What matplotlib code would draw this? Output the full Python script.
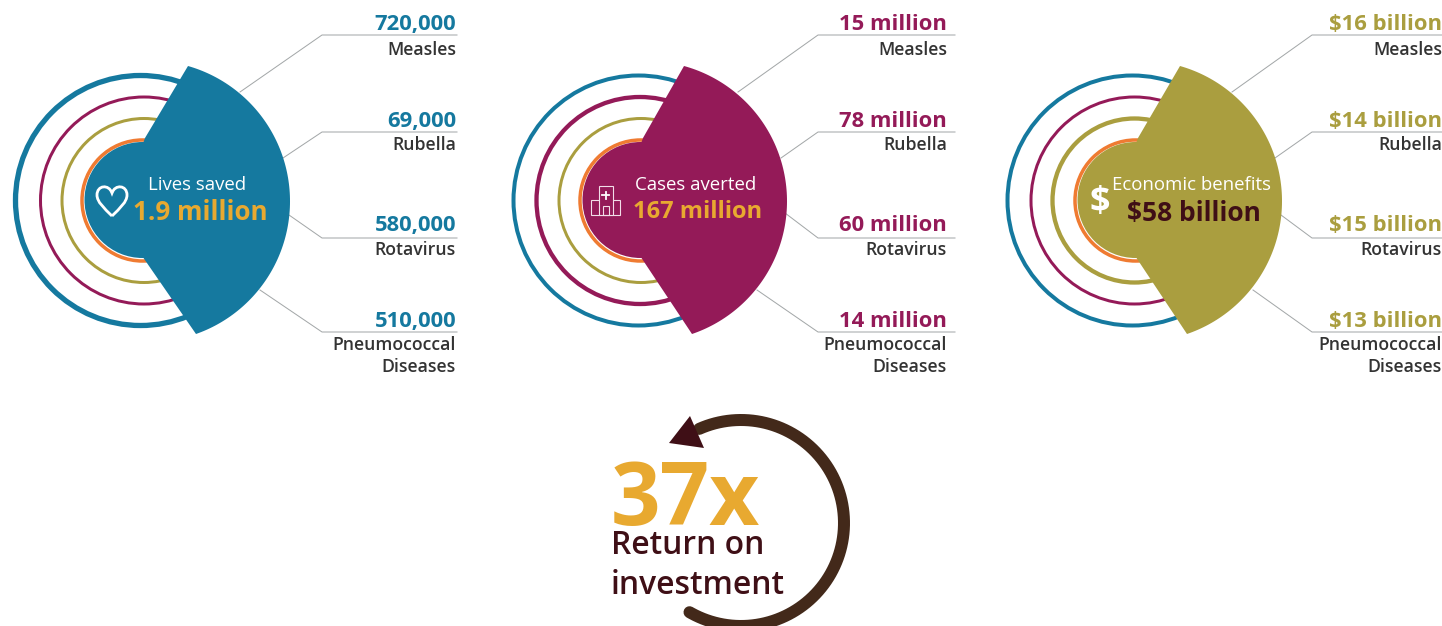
import numpy as np
import matplotlib
matplotlib.use("Agg")
import matplotlib.pyplot as plt
from matplotlib.patches import Circle, Polygon, PathPatch, Rectangle
from matplotlib.path import Path

plt.rcParams['font.family'] = ['Open Sans', 'DejaVu Sans']

BLUE = '#15799f'
PURPLE = '#941a58'
OLIVE = '#aa9e3f'
ORANGE = '#ef7b32'
GOLD = '#e8a930'
DARK = '#3f0f16'
BROWN = '#43291a'
GREY = '#a3a7a8'
INK = '#333333'

diseases = ['Measles', 'Rubella', 'Rotavirus', 'Pneumococcal\nDiseases']
lives_values = ['720,000', '69,000', '580,000', '510,000']
cases_values = ['15 million', '78 million', '60 million', '14 million']
econ_values = ['$16 billion', '$14 billion', '$15 billion', '$13 billion']
panel_titles = ['Lives saved', 'Cases averted', 'Economic benefits']
panel_totals = ['1.9 million', '167 million', '$58 billion']
panel_colors = [BLUE, PURPLE, OLIVE]
total_colors = [GOLD, GOLD, DARK]
total_sizes = [18.7, 17, 19]
panel_values = [lives_values, cases_values, econ_values]
return_value = '37x'
return_label = ['Return on', 'investment']

# panel layout, in pixels
ring_centres = [
    [140.5, 144, 144, 142.5],
    [638.5, 640, 641, 640.5],
    [1132.5, 1134.5, 1134.5, 1135.5],
]
ring_radii = [125, 103.5, 82, 60.5]
ring_colors = [BLUE, PURPLE, OLIVE, ORANGE]
ring_widths = [4, 3, 3, 3.5]
tip_top_x = [188, 684, 1180]
tip_bot_x = [196, 692, 1187]
arc_right_x = [290, 787, 1282]
text_right = [456, 947, 1442]
elbow_x = [322, 818, 1312]
line_end = [457, 955, 1442]
title_x = [197.5, 696, 1192]
total_x = [200, 698, 1194]
total_base = [219.5, 218, 220.5]
leader_start = [
    [(240, 92), (283, 158), (289, 215), (260, 290)],
    [(738, 92), (781, 158), (785, 213), (757, 290)],
    [(1232, 92), (1275, 158), (1281, 215), (1253, 290)],
]
elbow_y = [35, 132, 238, 332]
value_base = [30, 127, 231, 327]
label_base = [55, 150, 255, 350]

fig = plt.figure(figsize=(14.42, 6.26), dpi=100)
ax = fig.add_axes([0, 0, 1, 1])
ax.set_xlim(0, 1442)
ax.set_ylim(626, 0)
ax.axis('off')

px = 72 / 100  # pixels to points


def arc_sector(tip_a, apex_x, tip_b):
    # circle through both tips and the right-most point of the arc
    pts = np.array([tip_a, (apex_x, 200), tip_b], dtype=float)
    a = 2 * np.array([pts[1] - pts[0], pts[2] - pts[0]])
    b = np.array([pts[1] @ pts[1] - pts[0] @ pts[0], pts[2] @ pts[2] - pts[0] @ pts[0]])
    c = np.linalg.solve(a, b)
    r = np.hypot(*(pts[0] - c))
    t1 = np.arctan2(*(pts[0] - c)[::-1])
    t2 = np.arctan2(*(pts[2] - c)[::-1])
    t = np.linspace(t1, t2, 120)
    return np.column_stack([c[0] + r * np.cos(t), c[1] + r * np.sin(t)])


def draw_heart(cx, cy):
    verts = [(cx, cy + 15), (cx - 8, cy + 7), (cx - 15, cy + 1), (cx - 15, cy - 6),
             (cx - 15, cy - 16), (cx - 3, cy - 17), (cx, cy - 8),
             (cx + 3, cy - 17), (cx + 15, cy - 16), (cx + 15, cy - 6),
             (cx + 15, cy + 1), (cx + 8, cy + 7), (cx, cy + 15)]
    codes = [Path.MOVETO] + [Path.CURVE4] * 12
    ax.add_patch(PathPatch(Path(verts, codes), fc='none', ec='white', lw=2.8 * px, zorder=6))


def draw_hospital(x, y):
    box = dict(fc='none', ec='#f2dde8', lw=1.1 * px, zorder=6)
    ax.add_patch(Rectangle((x, y + 14), 29, 15, **box))
    ax.add_patch(Rectangle((x + 7.5, y), 14, 29, fc=PURPLE, ec='#f2dde8', lw=1.1 * px, zorder=6))
    ax.add_patch(Rectangle((x + 11.5, y + 20), 6, 9, **box))
    ax.plot([x + 14.5, x + 14.5], [y + 5.5, y + 12.5], color='white', lw=1.8 * px, zorder=7)
    ax.plot([x + 11, x + 18], [y + 9, y + 9], color='white', lw=1.8 * px, zorder=7)


for i in range(3):
    color = panel_colors[i]
    disk_x = ring_centres[i][3]

    # rings, the panel's own colour drawn heavier
    for cx, r, c, w in zip(ring_centres[i], ring_radii, ring_colors, ring_widths):
        lw = w + 1.3 if c == color else w
        ax.add_patch(Circle((cx, 200.5), r, fc='none', ec=c, lw=lw * px, zorder=2))

    ax.add_patch(Circle((disk_x, 200), 58, fc=color, ec='none', zorder=3))
    arc = arc_sector((tip_top_x[i], 66), arc_right_x[i], (tip_bot_x[i], 334))
    ax.add_patch(Polygon(
        np.vstack([[(disk_x + 2.5, 138)], arc, [(disk_x + 1, 258)], [(disk_x - 20, 200)]]),
        closed=True, fc=color, ec='none', zorder=4))

    ax.text(title_x[i], 190, panel_titles[i], color='white', fontsize=13.4, ha='center',
            va='baseline', zorder=6)
    ax.text(total_x[i], total_base[i], panel_totals[i], color=total_colors[i], fontsize=total_sizes[i],
            fontweight='bold', ha='center', va='baseline', zorder=6)

    for j in range(4):
        ax.plot([leader_start[i][j][0], elbow_x[i], line_end[i]],
                [leader_start[i][j][1], elbow_y[j], elbow_y[j]],
                color=GREY, lw=1.0 * px, zorder=1)
        ax.text(text_right[i], value_base[j], panel_values[i][j], color=color, fontsize=15.8,
                fontweight='bold', ha='right', va='baseline')
        lines = diseases[j].split('\n')
        for k, line in enumerate(lines):
            ax.text(text_right[i], label_base[j] + 22 * k, line, color=INK, fontsize=12.7,
                    fontweight='semibold', ha='right', va='baseline')

draw_heart(112, 201)
draw_hospital(591, 186)
ax.text(1100, 212, '$', color='white', fontsize=26, fontweight='bold', ha='center',
        va='baseline', zorder=6)

# return-on-investment loop
t = np.radians(np.linspace(246, 480, 200))
ax.plot(741 + 103 * np.cos(t), 523 + 103 * np.sin(t), color=BROWN, lw=12 * px,
        solid_capstyle='round', clip_on=False, zorder=2)
ax.add_patch(Polygon([(690, 416), (669, 443), (704, 448)], closed=True, fc=DARK, ec='none', zorder=3))

ax.text(611, 525, return_value, color=GOLD, fontsize=62.5, fontweight='bold', ha='left', va='baseline')
ax.text(611, 554.5, return_label[0], color=DARK, fontsize=22.9, fontweight='semibold', ha='left', va='baseline')
ax.text(611, 594, return_label[1], color=DARK, fontsize=22.9, fontweight='semibold', ha='left', va='baseline')

fig.savefig('out.png', dpi=100, facecolor='white')
